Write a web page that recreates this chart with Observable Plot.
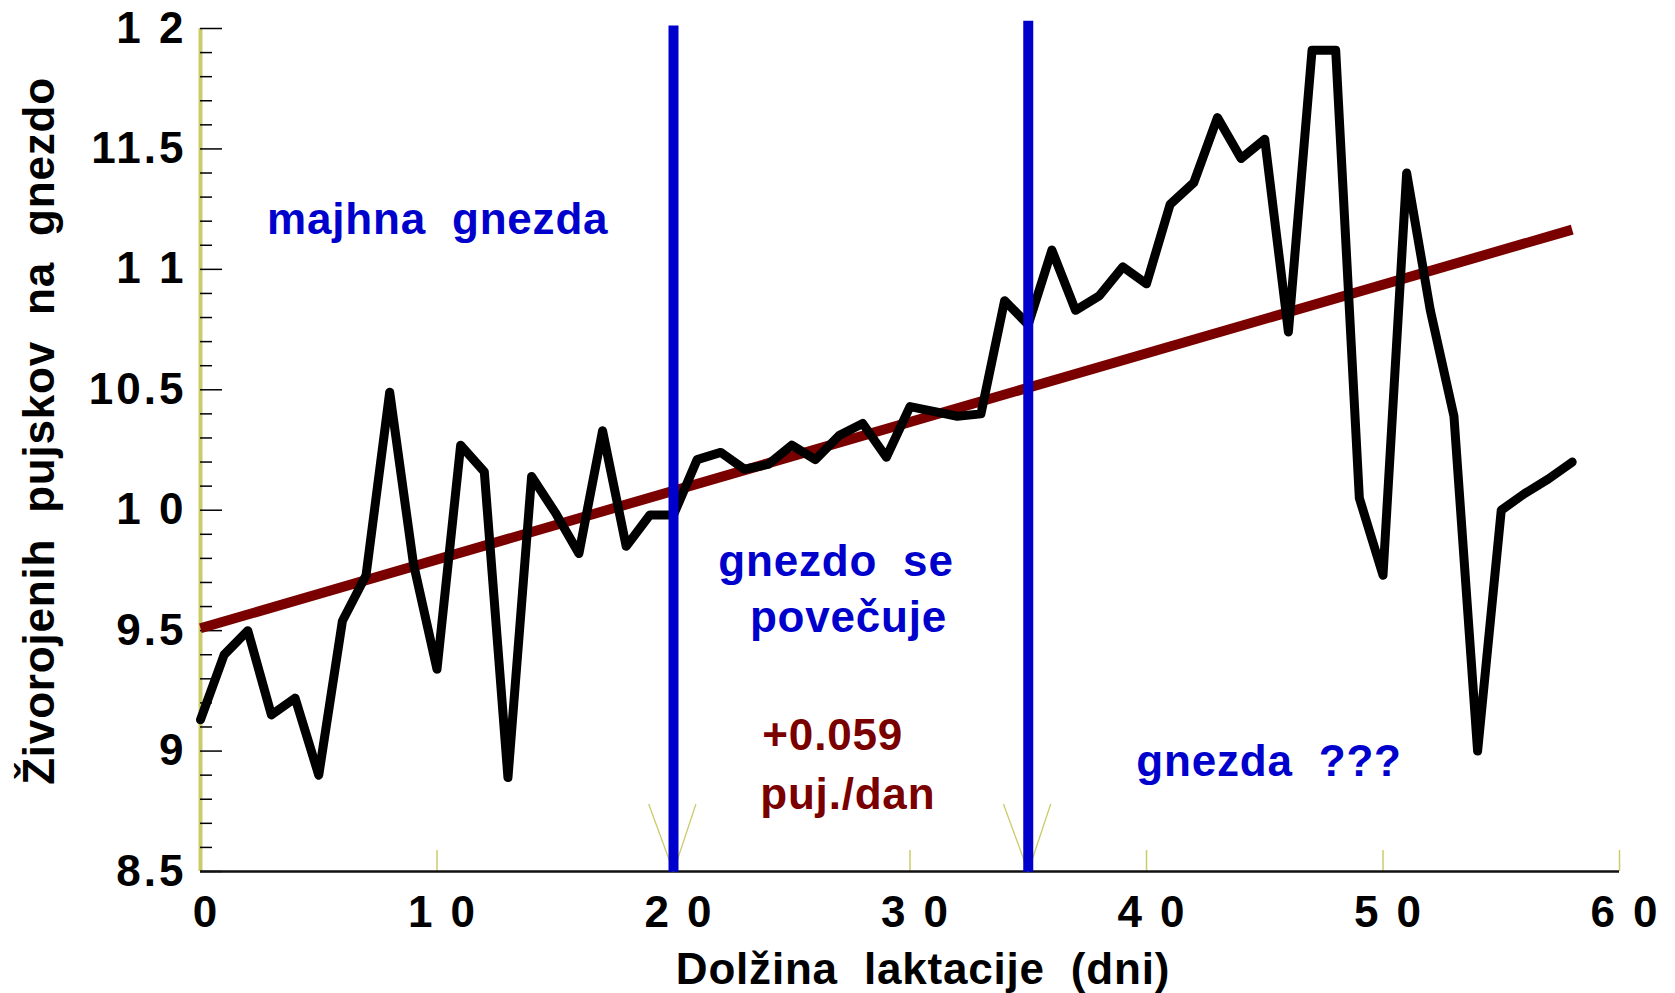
<!DOCTYPE html>
<html>
<head>
<meta charset="utf-8">
<script src="https://cdn.jsdelivr.net/npm/d3@7"></script>
<script src="https://cdn.jsdelivr.net/npm/@observablehq/plot@0.6"></script>
<style>
  html, body { margin: 0; padding: 0; background: #fff; }
  #chart svg text { white-space: pre; }
  g[aria-label="y-axis tick label"] text,
  g[aria-label="x-axis tick label"] text { letter-spacing: 3px; }
  g[aria-label="text"] text { letter-spacing: 0.8px; }
</style>
</head>
<body>
<div id="chart"></div>
<script>
// ---- data ----
const days = [0,1,2,3,4,5,6,7,8,9,10,11,12,13,14,15,16,17,18,19,20,21,22,23,24,25,26,27,28,29,
              30,31,32,33,34,35,36,37,38,39,40,41,42,43,44,45,46,47,48,49,50,51,52,53,54,55,56,57,58];
const pigletsPerLitter = [9.13,9.40,9.50,9.15,9.22,8.90,9.54,9.73,10.49,9.78,
                          9.34,10.27,10.16,8.89,10.14,9.99,9.82,10.33,9.85,9.98,
                          9.98,10.21,10.24,10.17,10.19,10.27,10.21,10.31,10.36,10.22,
                          10.43,10.41,10.39,10.40,10.87,10.77,11.08,10.83,10.89,11.01,
                          10.94,11.27,11.36,11.63,11.46,11.54,10.74,11.91,11.91,10.05,
                          9.73,11.40,10.83,10.39,9.00,10.00,10.07,10.13,10.20];
const trendDays = [0, 58];
const trendValues = [9.51, 11.165];
const phaseBoundaries = [20, 35];
const boundaryTops = [12.01, 12.03];
const xTicks = [0, 10, 20, 30, 40, 50, 60];
const xTickLabels = ["0", "1 0", "2 0", "3 0", "4 0", "5 0", "6 0"];
const yMajorTicks = [8.5, 9, 9.5, 10, 10.5, 11, 11.5, 12];
const yTickLabels = ["8.5", "9", "9.5", "1 0", "10.5", "1 1", "11.5", "1 2"];
const yMinorTicks = [8.6,8.7,8.8,8.9,9.1,9.2,9.3,9.4,9.6,9.7,9.8,9.9,10.1,10.2,10.3,10.4,
                     10.6,10.7,10.8,10.9,11.1,11.2,11.3,11.4,11.6,11.7,11.8,11.9];
const noteTexts = ["majhna  gnezda", "gnezdo  se", "povečuje", "+0.059", "puj./dan", "gnezda  ???"];
const noteDays = [10.03, 26.87, 27.4, 26.73, 27.37, 45.18];
const noteValues = [11.207, 9.787, 9.552, 9.061, 8.82, 8.957];
const noteColors = ["#0000cc", "#0000cc", "#0000cc", "#7a0000", "#7a0000", "#0000cc"];
const xTitle = "Dolžina  laktacije  (dni)";
const yTitle = "Živorojenih  pujskov  na  gnezdo";

const trend = trendDays.map((d, i) => ({day: d, value: trendValues[i]}));
const notes = noteTexts.map((t, i) => ({text: t, day: noteDays[i], value: noteValues[i], color: noteColors[i]}));

const olive = "#cbcb6c";
const font = "'Liberation Sans', Arial, Helvetica, sans-serif";

const chart = Plot.plot({
  width: 1675,
  height: 993,
  marginLeft: 200,
  marginRight: 56,
  marginTop: 28,
  marginBottom: 122,
  x: {domain: [0, 60]},
  y: {domain: [8.5, 12]},
  style: {fontFamily: font, background: "white", overflow: "visible", color: "black"},
  marks: [
    // y axis line (olive)
    Plot.ruleX([0], {y1: 8.5, y2: 12, stroke: olive, strokeWidth: 4}),
    // minor and major y ticks (pointing inward)
    Plot.axisY(yMinorTicks, {tickSize: -12, tickFormat: () => "", color: "black", stroke: "black", strokeWidth: 1.5, label: null}),
    Plot.axisY(yMajorTicks, {tickSize: -22, tickFormat: () => "", color: "black", stroke: "black", strokeWidth: 1.5, label: null}),
    Plot.axisY(yMajorTicks, {tickSize: 0, tickPadding: 14, tickFormat: d => yTickLabels[yMajorTicks.indexOf(d)],
      fontSize: 44, fontWeight: "bold", color: "black", label: null}),
    // x ticks (olive, pointing inward)
    Plot.axisX(xTicks.slice(1), {tickSize: -21, tickFormat: () => "", color: olive, stroke: olive, strokeWidth: 1.5, label: null}),
    Plot.axisX(xTicks, {tickSize: 0, tickPadding: 24, dx: 6, tickFormat: d => xTickLabels[xTicks.indexOf(d)],
      fontSize: 44, fontWeight: "bold", color: "black", label: null}),
    // x axis line
    Plot.ruleY([8.5], {x1: 0, x2: 60, stroke: "#111", strokeWidth: 2.5}),
    // small olive V marks at the phase boundaries
    Plot.link(phaseBoundaries, {x1: d => d - 1.05, y1: 8.78, x2: d => d, y2: 8.5, stroke: olive, strokeWidth: 1.3}),
    Plot.link(phaseBoundaries, {x1: d => d + 0.95, y1: 8.78, x2: d => d, y2: 8.5, stroke: olive, strokeWidth: 1.3}),
    // trend line
    Plot.line(trend, {x: "day", y: "value", stroke: "#7a0000", strokeWidth: 10, strokeLinecap: "butt"}),
    // observed series
    Plot.line(days, {x: d => d, y: (d, i) => pigletsPerLitter[i], stroke: "black", strokeWidth: 9,
      strokeLinejoin: "round", strokeLinecap: "round"}),
    // phase boundaries
    Plot.ruleX(phaseBoundaries, {x: d => d, y1: 8.497, y2: (d, i) => boundaryTops[i], stroke: "#0000cc", strokeWidth: 10}),
    // annotations
    Plot.text(notes, {x: "day", y: "value", text: "text", fill: "color", fontSize: 44, fontWeight: "bold", textAnchor: "middle"}),
    // axis titles
    Plot.text([xTitle], {frameAnchor: "bottom", dx: 13, dy: 98, fontSize: 44, fontWeight: "bold", fill: "black",
      textAnchor: "middle", lineAnchor: "middle"}),
    Plot.text([yTitle], {frameAnchor: "left", dx: -161, dy: -19, rotate: -90, fontSize: 44, fontWeight: "bold", fill: "black",
      textAnchor: "middle", lineAnchor: "middle"})
  ]
});

document.getElementById("chart").appendChild(chart);
</script>
</body>
</html>
